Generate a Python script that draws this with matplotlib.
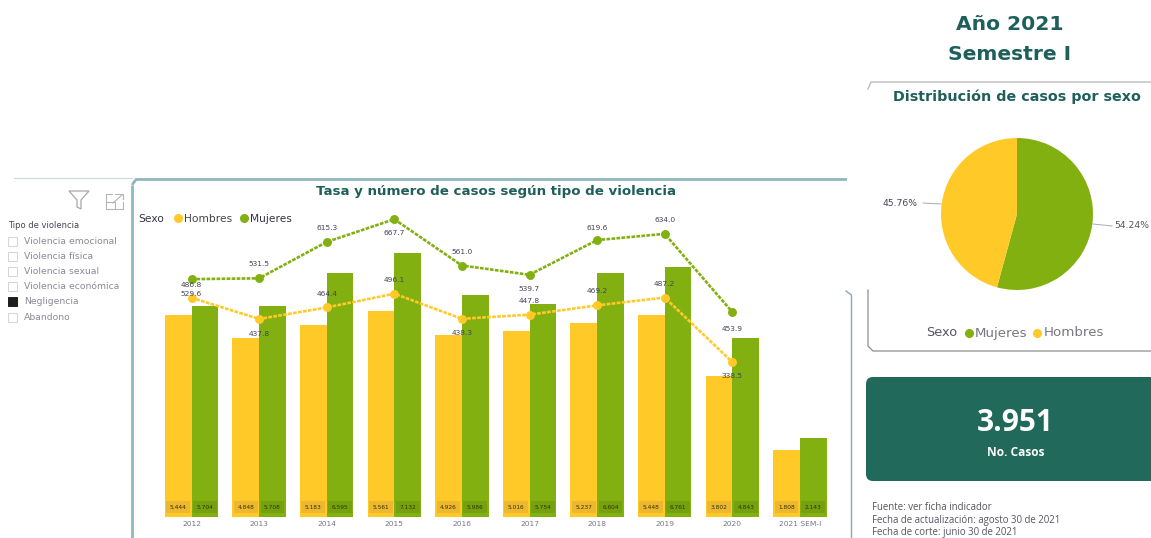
import matplotlib
matplotlib.use("Agg")
import matplotlib.pyplot as plt
from matplotlib.patches import FancyBboxPatch, Rectangle, Polygon

W, H = 1151, 538
GREEN = "#82B010"
YELLOW = "#FFCA28"
TEAL = "#20695B"
TITLE = "#1F5F5B"
FRAME = "#8FB8BE"

years = ["2012", "2013", "2014", "2015", "2016", "2017", "2018", "2019", "2020", "2021 SEM-I"]
casos_hombres = [5444, 4848, 5183, 5561, 4926, 5016, 5237, 5448, 3802, 1808]
casos_mujeres = [5704, 5708, 6595, 7132, 5986, 5754, 6604, 6761, 4843, 2143]
tasa_hombres = [486.8, 437.8, 464.4, 496.1, 438.3, 447.8, 469.2, 487.2, 338.5]
tasa_mujeres = [529.6, 531.5, 615.3, 667.7, 561.0, 539.7, 619.6, 634.0, 453.9]
# label offsets in points: positive above the point, negative below it
off_hombres = [9, -11, 10, 10, -10, 10, 10, 10, -10]
off_mujeres = [-11, 10, 10, -10, 10, -10, 9, 10, -12]
pie_labels = ["Mujeres", "Hombres"]
pie_values = [54.24, 45.76]
filtros = ["Violencia emocional", "Violencia física", "Violencia sexual",
           "Violencia económica", "Negligencia", "Abandono"]
filtro_activo = "Negligencia"
notas = ["Fuente: ver ficha indicador", "Fecha de actualización: agosto 30 de 2021",
         "Fecha de corte: junio 30 de 2021"]

plt.rcParams["font.family"] = ["DejaVu Sans"]
fig = plt.figure(figsize=(W / 100, H / 100), dpi=100, facecolor="white")


def rect(l, t, r, b):
    return [l / W, 1 - b / H, (r - l) / W, (b - t) / H]


# pixel-space canvas for the dashboard furniture
bg = fig.add_axes([0, 0, 1, 1])
bg.set_xlim(0, W)
bg.set_ylim(H, 0)
bg.axis("off")

bg.text(1010, 24, "Año 2021", ha="center", va="center", fontsize=14.6, fontweight="bold", color=TITLE)
bg.text(1010, 55, "Semestre I", ha="center", va="center", fontsize=14.6, fontweight="bold", color=TITLE)
bg.text(1017, 97, "Distribución de casos por sexo", ha="center", va="center", fontsize=10.3,
        fontweight="bold", color=TITLE)
bg.text(496, 192, "Tasa y número de casos según tipo de violencia", ha="center", va="center",
        fontsize=9.6, fontweight="bold", color=TITLE)

# chart frame
bg.plot([132, 132], [538, 185], color=FRAME, lw=2, solid_capstyle="butt")
bg.plot([132, 136, 847], [185, 179.5, 179.5], color=FRAME, lw=2, solid_capstyle="butt")
bg.plot([14, 132], [178, 178], color="#C9DADD", lw=0.8)
bg.plot([846, 851.5, 851.5], [291, 295, 538], color="#7FAEB5", lw=1)

# pie card
bg.plot([868, 871, 1151], [89, 82, 82], color="#B5B5B5", lw=0.9)
bg.plot([868, 868, 873, 1151], [290, 346, 351, 351], color="#8E8E8E", lw=0.9)

# KPI card
bg.add_patch(FancyBboxPatch((866, 377), 300, 104, boxstyle="round,pad=0,rounding_size=7",
                            fc=TEAL, ec="none"))
bg.text(1015, 423, "3.951", ha="center", va="center", fontsize=21.5, fontweight="bold", color="white",
        family="Open Sans")
bg.text(1016, 453, "No. Casos", ha="center", va="center", fontsize=8.6, fontweight="bold", color="white",
        family="Open Sans")
for y, s in zip([507, 520.5, 532.5], notas):
    bg.text(872, y, s, ha="left", va="center", fontsize=6.9, color="#555560", family="Open Sans")

# slicer
bg.text(8, 226, "Tipo de violencia", ha="left", va="center", fontsize=6, color="#444455")
for i, s in enumerate(filtros):
    y = 241 + i * 15.2
    on = s == filtro_activo
    bg.add_patch(Rectangle((8, y - 4.5), 9, 9, fc="#1E1E1E" if on else "white",
                           ec="#1E1E1E" if on else "#D5D5D5", lw=0.7))
    bg.text(24, y, s, ha="left", va="center", fontsize=6.7, color="#8A8A96")
# filter and focus icons
bg.add_patch(Polygon([(69, 191), (89, 191), (81, 200), (81, 209), (77, 207), (77, 200)], closed=True,
                     fc="none", ec="#A8A8A8", lw=0.9))
bg.plot([112, 106, 106, 123, 123], [194, 194, 209, 209, 202], color="#B5B5B5", lw=0.8)
bg.plot([106, 115, 115], [202, 202, 209], color="#B5B5B5", lw=0.8)
bg.plot([115, 123, 123], [194, 194, 199], color="#B5B5B5", lw=0.8)
bg.plot([113, 122], [203, 195], color="#B5B5B5", lw=0.8)

# combo chart
L, R, T, B = 150, 840, 200, 517
x0, dx = 191.5, 67.6
ax = fig.add_axes(rect(L, T, R, B))
ax.patch.set_alpha(0)
ax.set_xlim((L - x0) / dx, (R - x0) / dx)
ax.set_ylim(0, (B - T) / (264 / 7132))
xs = list(range(len(years)))
bw = 0.395
ax.bar([x - bw / 2 for x in xs], casos_hombres, bw, color=YELLOW)
ax.bar([x + bw / 2 for x in xs], casos_mujeres, bw, color=GREEN)
for x, h, m in zip(xs, casos_hombres, casos_mujeres):
    for xx, v, c in ((x - bw / 2, h, "#EDB830"), (x + bw / 2, m, "#76A10F")):
        ax.text(xx, 270, f"{v:,}".replace(",", "."), ha="center", va="center", fontsize=4.2,
                color="#333300", bbox=dict(boxstyle="square,pad=0.6", fc=c, ec="none"), zorder=3)
for s in ax.spines.values():
    s.set_visible(False)
ax.set_yticks([])
ax.set_xticks(xs)
ax.set_xticklabels(years, fontsize=5.4, color="#777785")
ax.tick_params(axis="x", length=0, pad=3)

ax2 = ax.twinx()
ax2.patch.set_alpha(0)
ax2.set_ylim((509 - B) / 0.434, (509 - T) / 0.434)
ax2.set_yticks([])
for s in ax2.spines.values():
    s.set_visible(False)
lx = xs[:len(tasa_hombres)]
ax2.plot(lx, tasa_mujeres, color=GREEN, lw=1.9, ls=(0, (1.4, 0.5)), marker="o", ms=5.4, zorder=4)
ax2.plot(lx, tasa_hombres, color=YELLOW, lw=1.9, ls=(0, (1.4, 0.5)), marker="o", ms=5.4, zorder=4)
for x, v, o in zip(lx, tasa_mujeres, off_mujeres):
    ax2.annotate(f"{v:.1f}", (x, v), xytext=(0, o), textcoords="offset points", ha="center",
                 va="center", fontsize=5.4, color="#444455", zorder=5)
for x, v, o in zip(lx, tasa_hombres, off_hombres):
    ax2.annotate(f"{v:.1f}", (x, v), xytext=(0, o), textcoords="offset points", ha="center",
                 va="center", fontsize=5.4, color="#444455", zorder=5)

# chart legend
bg.text(138, 219, "Sexo", ha="left", va="center", fontsize=7.7, color="#333344")
bg.plot([178], [218], "o", color=YELLOW, ms=5.5)
bg.text(184, 219, "Hombres", ha="left", va="center", fontsize=7.7, color="#444444")
bg.plot([244], [218], "o", color=GREEN, ms=5.5)
bg.text(250, 219, "Mujeres", ha="left", va="center", fontsize=7.7, color="#333344")

# pie
pax = fig.add_axes(rect(941, 138, 1093, 290))
pax.pie(pie_values, colors=[GREEN, YELLOW], startangle=90, counterclock=False, radius=1)
pax.set_xlim(-1, 1)
pax.set_ylim(-1, 1)
bg.text(883, 203, f"{pie_values[1]:.2f}%", ha="left", va="center", fontsize=6.7, color="#444455")
bg.plot([923, 941], [203, 204], color="#AAAAAA", lw=0.7)
bg.text(1114, 226, f"{pie_values[0]:.2f}%", ha="left", va="center", fontsize=6.7, color="#555560")
bg.plot([1093, 1112], [224, 226], color="#AAAAAA", lw=0.7)
bg.text(926, 333, "Sexo", ha="left", va="center", fontsize=9.3, color="#555560")
bg.plot([969], [333], "o", color=GREEN, ms=5.5)
bg.text(975, 333, pie_labels[0], ha="left", va="center", fontsize=9.6, color="#777780")
bg.plot([1037], [333], "o", color=YELLOW, ms=5.5)
bg.text(1044, 333, pie_labels[1], ha="left", va="center", fontsize=9.6, color="#777780")

fig.savefig("out.png", dpi=100)
